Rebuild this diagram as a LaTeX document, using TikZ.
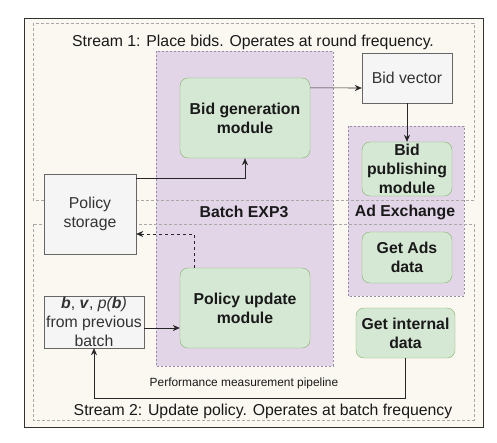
\documentclass[tikz,border=0pt]{standalone}
\usepackage{fontspec}
\setmainfont{Liberation Sans}
\usepackage{xcolor}
\usetikzlibrary{arrows.meta,positioning}
\definecolor{bgcream}{HTML}{FAF8F0}
\definecolor{grpfill}{HTML}{E1D5E7}
\definecolor{grpline}{HTML}{9A8AA6}
\definecolor{modfill}{HTML}{D5E8D4}
\definecolor{modline}{HTML}{82B366}
\definecolor{plainfill}{HTML}{F5F5F5}
\definecolor{plainline}{HTML}{666666}
\definecolor{strline}{HTML}{A8A8A8}
\newcommand\basefont{\fontsize{15.8}{19}\selectfont}

\begin{document}
\begin{tikzpicture}[
  x=1pt, y=-1pt,
  modbox/.style={draw=modline, fill=modfill, rounded corners=8pt, align=center,
                 font=\basefont\bfseries, inner sep=0pt, text=black!90},
  plainbox/.style={draw=plainline, fill=plainfill, align=center,
                   font=\basefont, inner sep=0pt, text=black!80},
  group/.style={draw=grpline, fill=grpfill, dash pattern=on 2pt off 2pt},
  stream/.style={draw=strline, dash pattern=on 3pt off 2pt},
  grplbl/.style={font=\basefont\bfseries, text=black!90},
  lbl/.style={font=\basefont, text=black!90},
  arr/.style={-{Stealth[length=7pt,width=6pt]}, draw=black!85, semithick},
]
\useasboundingbox[fill=white] (0,0) rectangle (497,442);
\draw[black!80, fill=bgcream] (24,18) rectangle (483,427);

% groups
\draw[group] (156,51) rectangle (333,366);
\draw[group] (348,126) rectangle (464,296);
\draw[stream] (33,23) rectangle (474,200);
\draw[stream] (33,224) rectangle (474,420);

\node[lbl] (s1) at (253,42) {Stream 1: Place bids. Operates at round frequency.};
\node[lbl] (s2) at (263,411) {Stream 2: Update policy. Operates at batch frequency};
\node[grplbl] (exp) at (244,212) {Batch EXP3};
\node[grplbl] (adx) at (405,212) {Ad Exchange};
\node[font=\fontsize{11.9}{14}\selectfont, text=black!90] (perf) at (244,383)
  {Performance measurement pipeline};

% boxes
\node[modbox, minimum width=130pt, minimum height=80pt] (bidgen) at (245,118) {Bid generation\\module};
\node[plainbox, minimum width=90pt, minimum height=50pt] (vec) at (407,78) {Bid vector};
\node[modbox, minimum width=90pt, minimum height=54pt] (pub) at (407,169) {Bid\\publishing\\module};
\node[plainbox, minimum width=92pt, minimum height=80pt] (store) at (90,214) {Policy\\storage};
\node[plainbox, minimum width=100pt, minimum height=52pt] (prev) at (94,322)
  {\textbf{\textit{b}}, \textbf{\textit{v}}, \textit{p(\textbf{b})}\\from previous\\batch};
\node[modbox, minimum width=130pt, minimum height=80pt] (upd) at (245,308) {Policy update\\module};
\node[modbox, minimum width=90pt, minimum height=51pt] (ads) at (407,257.5) {Get Ads\\data};
\node[modbox, minimum width=99pt, minimum height=50pt] (intl) at (405.5,333) {Get internal\\data};

% connectors
\draw[arr] ([yshift=-4pt]store.north east) -| (bidgen.south);
\draw[arr] ([yshift=-10pt]bidgen.north east) -- ([yshift=-10pt]vec.west);
\draw[arr] (vec) -- (pub);
\draw[arr, dashed] ([xshift=-51pt]upd.north) |- ([yshift=-20pt]store.east);
\draw[arr] ([yshift=-6pt]prev.east) -- ([yshift=-6pt]prev.east -| upd.west);
\draw[arr] (intl.south) -- ++(0,40) -| (prev.south);
\end{tikzpicture}
\end{document}
